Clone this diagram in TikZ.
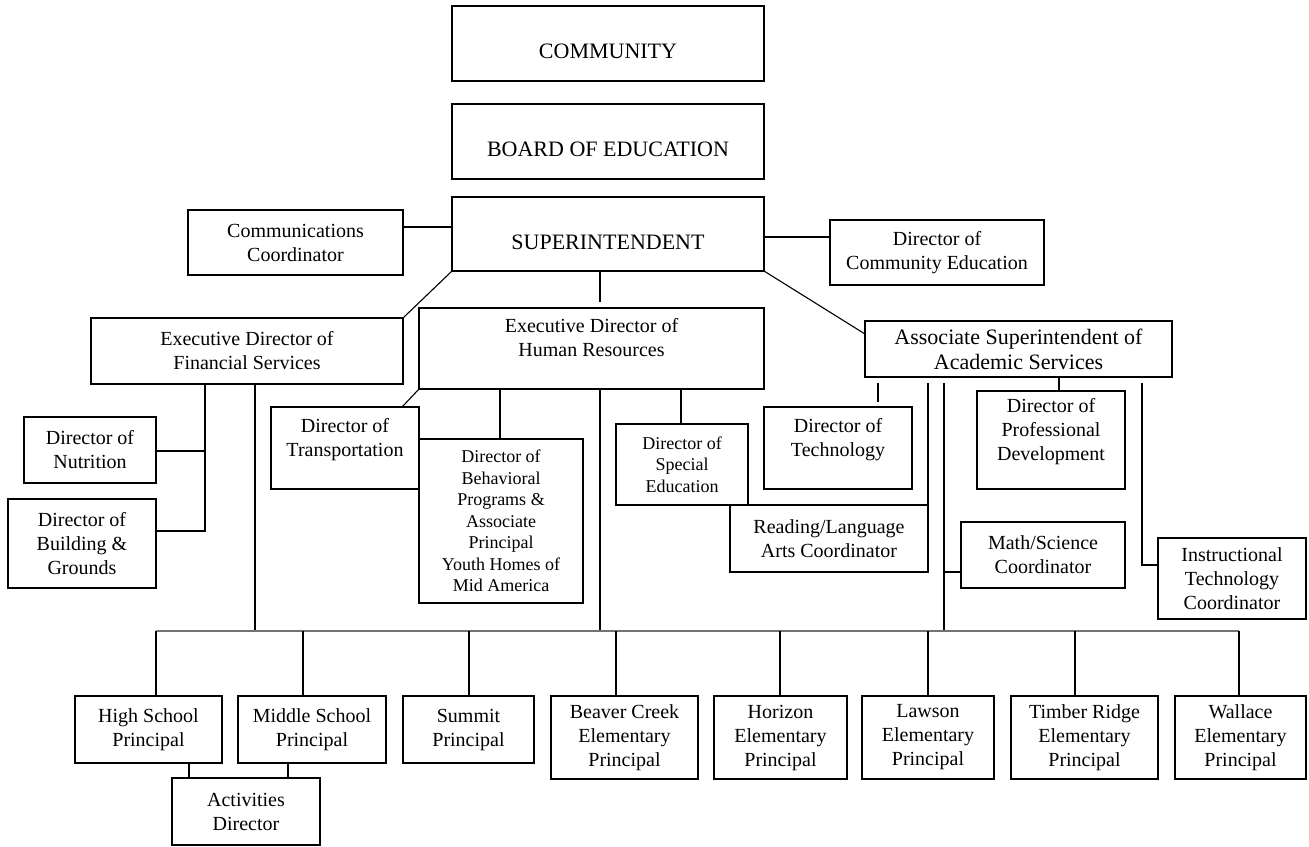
\documentclass[tikz,border=0pt]{standalone}
\usepackage{fontspec}
\setmainfont{Liberation Serif}
\newcommand{\lowpad}{\rule[-22pt]{0pt}{22pt}}
\newcommand{\cappad}{\rule{0pt}{31pt}}
\newcommand{\obox}[7][]{\node[boxst,#1,minimum width={#5-#3},minimum height={#6-#4}] (#2) at ({(#3+#5)/2},{(#4+#6)/2}) {#7};}
\tikzset{
  boxst/.style={draw=black, line width=1.1pt, inner sep=0pt, outer sep=0pt, align=center,
    font=\fontsize{20}{24}\selectfont},
  capsfont/.style={font=\fontsize{22}{26}\selectfont},
  bigfont/.style={font=\fontsize{22}{25}\selectfont},
  smallfont/.style={font=\fontsize{18}{21.5}\selectfont},
  ln/.style={draw=black, line width=1.1pt},
  barln/.style={draw=black!55, line width=1.6pt}
}
\begin{document}
\begin{tikzpicture}[x=1pt,y=-1pt]
\useasboundingbox (0,0) rectangle (1309,846);
% top
\obox[capsfont]{community}{452}{6}{764}{81}{\cappad COMMUNITY}
\obox[capsfont]{board}{452}{104}{764}{179}{\cappad BOARD OF EDUCATION}
\obox[capsfont]{super}{452}{197}{764}{271}{\cappad SUPERINTENDENT}
\obox{commc}{188}{210}{403}{275}{Communications\\Coordinator}
\obox{dce}{830}{220}{1044}{285}{Director of\\Community Education}
% second level
\obox{fin}{91}{318}{403}{384}{Executive Director of\\Financial Services}
\obox{hr}{419}{308}{764}{389}{Executive Director of\\Human Resources\lowpad}
\obox[bigfont]{assoc}{865}{321}{1172}{377}{Associate Superintendent of\\Academic Services}
% financial branch
\obox{nut}{24}{417}{156}{483}{Director of\\Nutrition}
\obox{bld}{8}{499}{156}{588}{Director of\\Building \&\\Grounds}
% HR branch
\obox{trans}{271}{407}{419}{489}{Director of\\Transportation\lowpad}
\obox[smallfont]{behav}{419}{439}{583}{603}{Director of\\Behavioral\\Programs \&\\Associate\\Principal\\Youth Homes of\\Mid America}
\obox[smallfont]{sped}{616}{424}{748}{505}{Director of\\Special\\Education}
% academic branch
\obox{tech}{764}{407}{912}{489}{Director of\\Technology\lowpad}
\obox{pd}{977}{391}{1125}{489}{Director of\\Professional\\Development\lowpad}
\obox{read}{730}{505}{928}{572}{Reading/Language\\Arts Coordinator}
\obox{math}{961}{522}{1125}{588}{Math/Science\\Coordinator}
\obox{instr}{1158}{538}{1306}{619}{Instructional\\Technology\\Coordinator}
% principals
\obox{hs}{75}{696}{222}{763}{High School\\Principal}
\obox{ms}{238}{696}{386}{763}{Middle School\\Principal}
\obox{summit}{403}{696}{534}{763}{Summit\\Principal}
\obox{beaver}{551}{696}{698}{779}{Beaver Creek\\Elementary\\Principal}
\obox{horizon}{714}{696}{847}{779}{Horizon\\Elementary\\Principal}
\obox{lawson}{862}{696}{994}{779}{Lawson\\Elementary\\Principal}
\obox{timber}{1011}{696}{1158}{779}{Timber Ridge\\Elementary\\Principal}
\obox{wallace}{1175}{696}{1306}{779}{Wallace\\Elementary\\Principal}
\obox{act}{172}{778}{320}{845}{Activities\\Director}
% coordinates
\coordinate (barL) at (156,631);
\coordinate (barR) at (1239,631);
\coordinate (finbr) at (205,451);
% superintendent connectors
\draw[ln] (commc.east |- 0,227) -- (super.west |- 0,227);
\draw[ln] (super.east |- 0,237) -- (dce.west |- 0,237);
\draw[ln] (super.south west) -- (fin.north east);
\draw[ln] (super.south -| 600,0) -- ([yshift=6pt]hr.north -| 600,0);
\draw[ln] (super.south east) -- (assoc.west |- 0,334);
% financial
\draw[ln] (fin.south -| finbr) |- (bld.east |- 0,531);
\draw[ln] (nut.east |- finbr) -- (finbr);
\draw[ln] (fin.south -| 255,0) -- (barL -| 255,0);
% HR
\draw[ln] (hr.south west) -- (trans.north -| 402,0);
\draw[ln] (hr.south -| 500,0) -- (behav.north -| 500,0);
\draw[ln] (hr.south -| 600,0) -- (barL -| 600,0);
\draw[ln] (hr.south -| 681,0) -- (sped.north -| 681,0);
% academic
\draw[ln] ([yshift=-6pt]assoc.south -| 878,0) -- ([yshift=5pt]tech.north -| 878,0);
\draw[ln] ([yshift=-6pt]assoc.south -| 928,0) -- (read.north east);
\draw[ln] ([yshift=-6pt]assoc.south -| 944,0) -- (barL -| 944,0);
\draw[ln] (944,572) -- (math.west |- 0,572);
\draw[ln] (assoc.south -| 1059,0) -- (pd.north -| 1059,0);
\draw[ln] ([yshift=-6pt]assoc.south -| 1142,0) |- (instr.west |- 0,565);
% principal bar
\draw[barln] (barL) -- (barR);
\draw[ln] (barL) -- (hs.north -| barL);
\draw[ln] (barL -| 303,0) -- (ms.north -| 303,0);
\draw[ln] (barL -| 469,0) -- (summit.north -| 469,0);
\draw[ln] (barL -| 616,0) -- (beaver.north -| 616,0);
\draw[ln] (barL -| 780,0) -- (horizon.north -| 780,0);
\draw[ln] (barL -| 928,0) -- (lawson.north -| 928,0);
\draw[ln] (barL -| 1075,0) -- (timber.north -| 1075,0);
\draw[ln] (barR) -- (wallace.north -| barR);
\draw[ln] (hs.south -| 189,0) -- (act.north -| 189,0);
\draw[ln] (ms.south -| 288,0) -- (act.north -| 288,0);
\end{tikzpicture}
\end{document}
